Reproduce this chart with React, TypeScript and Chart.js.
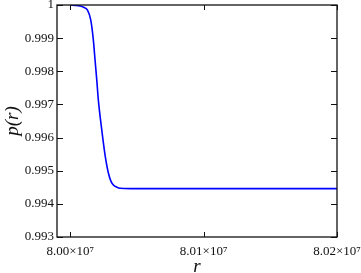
import React, { useEffect, useRef } from "react";
import { Chart, registerables } from "chart.js";

Chart.register(...registerables);

const rValues = [
  80000000, 80004000, 80007300, 80010000, 80012760, 80015300, 80017270, 80018540,
  80019820, 80021020, 80023570, 80026050, 80028530, 80030500, 80032300, 80035000,
  80037300, 80045000, 80100000, 80200000,
];
const pValues = [
  1.0, 0.99999, 0.99997, 0.99993, 0.99985, 0.99955, 0.99894, 0.99834,
  0.99774, 0.99713, 0.99623, 0.99547, 0.99493, 0.99468, 0.99457, 0.9945,
  0.99447, 0.99446, 0.99446, 0.99446,
];

const xTickValues = [80000000, 80100000, 80200000];
const xTickLabels = ["8.00×10⁷", "8.01×10⁷", "8.02×10⁷"];
const yTickValues = [0.993, 0.994, 0.995, 0.996, 0.997, 0.998, 0.999, 1.0];
const yTickLabels = ["0.993", "0.994", "0.995", "0.996", "0.997", "0.998", "0.999", "1"];

const xMin = 79990000;
const xMax = 80200000;
const yMin = 0.993;
const yMax = 1.0;

const FONT = "'Liberation Serif', 'Times New Roman', serif";

const framePlugin = {
  id: "frame",
  afterDraw(chart: any) {
    const { ctx, chartArea, scales } = chart;
    const { left, right, top, bottom } = chartArea;
    ctx.save();
    ctx.strokeStyle = "#111";
    ctx.lineWidth = 1.3;
    ctx.strokeRect(left, top, right - left, bottom - top);
    ctx.lineWidth = 1;
    ctx.beginPath();
    xTickValues.forEach((v) => {
      const px = Math.round(scales.x.getPixelForValue(v)) + 0.5;
      ctx.moveTo(px, bottom);
      ctx.lineTo(px, bottom - 5);
      ctx.moveTo(px, top);
      ctx.lineTo(px, top + 5);
    });
    yTickValues.forEach((v) => {
      const py = Math.round(scales.y.getPixelForValue(v)) + 0.5;
      ctx.moveTo(left, py);
      ctx.lineTo(left + 6, py);
      ctx.moveTo(right, py);
      ctx.lineTo(right - 6, py);
    });
    ctx.stroke();
    ctx.restore();
  },
};

export default function App() {
  const ref = useRef<HTMLCanvasElement | null>(null);
  useEffect(() => {
    document.body.style.margin = "0";
    const canvas = ref.current!;
    const chart = new Chart(canvas, {
      type: "line",
      data: {
        datasets: [
          {
            data: rValues.map((r, i) => ({ x: r, y: pValues[i] })),
            borderColor: "#0000ff",
            borderWidth: 1.6,
            pointRadius: 0,
            fill: false,
            cubicInterpolationMode: "monotone",
          },
        ],
      },
      options: {
        animation: false,
        responsive: false,
        devicePixelRatio: 1,
        layout: { padding: { top: 5, right: 24, left: 0, bottom: 0 } },
        plugins: { legend: { display: false }, tooltip: { enabled: false } },
        scales: {
          x: {
            type: "linear",
            min: xMin,
            max: xMax,
            grid: { display: false, drawTicks: false },
            border: { display: false },
            afterBuildTicks: (scale: any) => {
              scale.ticks = xTickValues.map((v) => ({ value: v }));
            },
            afterFit: (scale: any) => {
              scale.height = 36;
              scale.paddingLeft = 0;
              scale.paddingRight = 0;
            },
            ticks: {
              autoSkip: false,
              maxRotation: 0,
              padding: 7,
              color: "#111",
              font: { family: FONT, size: 13 },
              callback: (v: any) => {
                const i = xTickValues.indexOf(Number(v));
                return i >= 0 ? xTickLabels[i] : "";
              },
            },
            title: {
              display: true,
              text: "r",
              color: "#111",
              font: { family: FONT, size: 19, style: "italic" },
              padding: { top: 0, bottom: -5 },
            },
          },
          y: {
            type: "linear",
            min: yMin,
            max: yMax,
            grid: { display: false, drawTicks: false },
            border: { display: false },
            afterBuildTicks: (scale: any) => {
              scale.ticks = yTickValues.map((v) => ({ value: v }));
            },
            afterFit: (scale: any) => {
              scale.width = 57;
              scale.paddingTop = 0;
              scale.paddingBottom = 0;
            },
            ticks: {
              autoSkip: false,
              padding: 3,
              color: "#111",
              font: { family: FONT, size: 13 },
              callback: (v: any) => {
                const i = yTickValues.findIndex((t) => Math.abs(t - Number(v)) < 1e-9);
                return i >= 0 ? yTickLabels[i] : "";
              },
            },
            title: {
              display: true,
              text: "p(r)",
              color: "#111",
              font: { family: FONT, size: 19, style: "italic" },
              padding: { top: 2, bottom: 0 },
            },
          },
        },
      },
      plugins: [framePlugin],
    } as any);
    return () => chart.destroy();
  }, []);
  return <canvas ref={ref} width={361} height={273} style={{ display: "block", width: 361, height: 273 }} />;
}
